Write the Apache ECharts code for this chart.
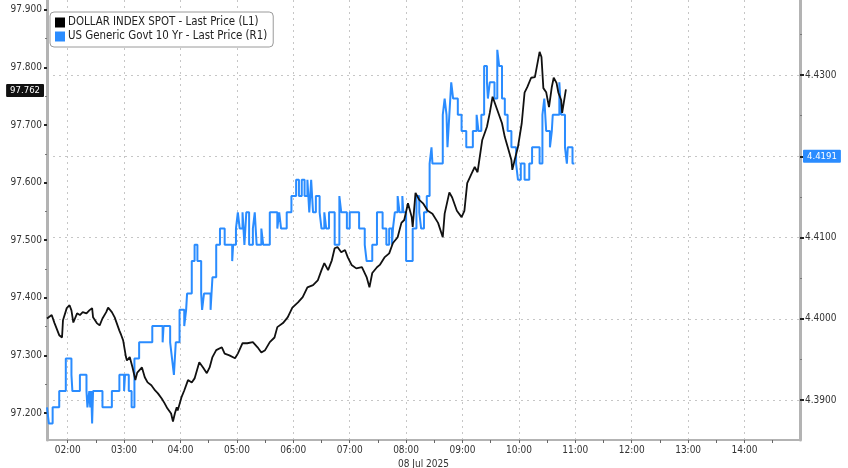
<!DOCTYPE html>
<html><head><meta charset="utf-8">
<script src="https://cdn.jsdelivr.net/npm/echarts@6/dist/echarts.min.js"></script>
<style>html,body{margin:0;padding:0;background:#fff}#c{width:848px;height:468px}</style>
</head><body><div id="c"></div>
<script>
// DOLLAR INDEX SPOT (left axis) - minutes after midnight, 08 Jul 2025
const dxyMinutes = [98,103,106,111,114,115,119,122,124,126,130,133,136,140,143,146,147,151,154,157,161,163,167,170,175,177,179,182,183,186,189,192,194,199,202,205,209,213,216,220,223,226,230,232,234,236,237,241,244,248,252,255,260,264,268,271,274,278,284,287,292,298,301,306,311,317,322,326,330,335,340,343,349,354,359,365,370,375,381,386,390,393,397,401,404,407,411,415,418,422,427,433,438,441,444,449,452,457,459,462,466,471,475,478,482,486,487,490,494,498,503,508,514,519,521,526,529,534,539,542,545,550,553,556,561,566,569,572,574,577,582,585,588,592,593,595,599,603,606,609,613,617,619,622,624,626,629,632,635,637,640,642,645,646,650];
const dxyValues = [97.364,97.370,97.356,97.335,97.331,97.361,97.382,97.387,97.378,97.357,97.373,97.370,97.375,97.373,97.378,97.382,97.366,97.356,97.352,97.364,97.375,97.383,97.375,97.366,97.343,97.335,97.326,97.297,97.291,97.297,97.279,97.257,97.270,97.279,97.262,97.253,97.248,97.239,97.234,97.225,97.217,97.208,97.199,97.185,97.199,97.210,97.204,97.227,97.239,97.257,97.253,97.260,97.288,97.279,97.269,97.279,97.297,97.309,97.314,97.303,97.300,97.295,97.303,97.321,97.321,97.323,97.314,97.305,97.309,97.323,97.331,97.349,97.356,97.366,97.383,97.392,97.401,97.418,97.422,97.430,97.448,97.460,97.448,97.465,97.486,97.488,97.479,97.483,97.470,97.457,97.451,97.453,97.436,97.418,97.443,97.453,97.457,97.470,97.470,97.477,97.495,97.505,97.530,97.535,97.564,97.540,97.523,97.582,97.570,97.564,97.551,97.546,97.530,97.505,97.546,97.583,97.574,97.551,97.540,97.551,97.599,97.617,97.627,97.618,97.674,97.697,97.721,97.749,97.752,97.726,97.703,97.679,97.662,97.639,97.622,97.636,97.662,97.703,97.756,97.766,97.782,97.783,97.783,97.827,97.818,97.764,97.757,97.731,97.766,97.782,97.773,97.756,97.743,97.721,97.762];

// US Generic Govt 10 Yr (right axis) - level changes
const ustMinutes = [98,100,104,111,118,124,125,133,140,141,143,144,145,146,147,157,167,175,180,181,185,188,191,196,210,221,222,229,231,233,235,239,244,246,247,252,255,258,262,263,265,272,274,278,282,287,295,296,299,301,303,306,308,310,313,317,319,321,326,328,335,343,345,347,353,358,363,366,369,372,375,377,379,381,384,388,390,393,395,398,404,409,411,417,420,430,436,438,444,449,455,459,462,465,466,468,471,473,476,477,480,487,491,494,496,499,502,505,507,508,519,521,523,524,526,528,530,535,539,544,551,555,557,560,563,566,567,569,574,577,579,582,585,588,592,597,599,602,606,611,614,622,625,627,629,633,635,636,643,645,649,651,652,657,659];
const ustValues = [4.3891,4.3871,4.3891,4.3911,4.3951,4.3931,4.3911,4.3931,4.3911,4.3891,4.3911,4.3891,4.3911,4.3871,4.3911,4.3891,4.3911,4.3931,4.3911,4.3931,4.3911,4.3891,4.3951,4.3971,4.3991,4.3971,4.3991,4.3971,4.3951,4.3931,4.3971,4.4011,4.3991,4.4011,4.4031,4.4071,4.4091,4.4071,4.4031,4.4011,4.4031,4.4011,4.4051,4.4091,4.4111,4.4091,4.4071,4.4091,4.4111,4.4131,4.4111,4.4131,4.4091,4.4131,4.4091,4.4111,4.4131,4.4091,4.4111,4.4091,4.4131,4.4111,4.4131,4.4111,4.4131,4.4151,4.4171,4.4151,4.4171,4.4151,4.4171,4.4131,4.4171,4.4131,4.4151,4.4131,4.4111,4.4131,4.4111,4.4131,4.4091,4.4151,4.4131,4.4111,4.4131,4.4111,4.4091,4.4071,4.4091,4.4131,4.4111,4.4091,4.4111,4.4091,4.4111,4.4131,4.4151,4.4131,4.4151,4.4131,4.4071,4.4111,4.4151,4.4131,4.4111,4.4131,4.4151,4.4191,4.4211,4.4191,4.4251,4.4271,4.4251,4.4211,4.4251,4.4291,4.4271,4.4251,4.4231,4.4211,4.4231,4.4251,4.4231,4.4251,4.4311,4.4291,4.4271,4.4291,4.4271,4.4331,4.4311,4.4271,4.4251,4.4231,4.4211,4.4191,4.4171,4.4191,4.4171,4.4191,4.4211,4.4191,4.4251,4.4271,4.4231,4.4211,4.4231,4.4251,4.4291,4.4251,4.4211,4.4191,4.4211,4.4191,4.4191];

const hourTicks = [120,180,240,300,360,420,480,540,600,660,720,780,840];
const halfHourTicks = [150,210,270,330,390,450,510,570,630,690,750,810,870];
const leftTicks = [97.2,97.3,97.4,97.5,97.6,97.7,97.8,97.9];
const leftMinorTicks = [97.25,97.35,97.45,97.55,97.65,97.75,97.85];
const rightTicks = [4.39,4.40,4.41,4.42,4.43];
const rightMinorTicks = [4.395,4.405,4.415,4.425,4.435];
const dateLabel = '08 Jul 2025';
const dxyName = 'DOLLAR INDEX SPOT - Last Price (L1)';
const ustName = 'US Generic Govt 10 Yr - Last Price (R1)';
const dxyLast = 97.762;
const ustLast = 4.4191;

const FONT = "'DejaVu Sans Condensed','DejaVu Sans',sans-serif";
const X_MIN = 98, X_MAX = 899;
const L_MIN = 97.153, L_MAX = 97.917;
const R_MIN = 4.38508, R_MAX = 4.43923;
const pad = n => (n < 10 ? '0' : '') + n;
const hhmm = m => pad(Math.floor(m / 60)) + ':' + pad(Math.round(m % 60));

const chart = echarts.init(document.getElementById('c'), null, {renderer: 'canvas'});
const axisLineStyle = {color: '#b3b3b3', width: 2};
const labelStyle = {color: '#333', fontSize: 10, fontFamily: FONT};

chart.setOption({
  animation: false,
  backgroundColor: '#fff',
  textStyle: {fontFamily: FONT},
  grid: {left: 47, right: 48, top: 0, bottom: 28, containLabel: false, outerBoundsMode: 'none'},
  legend: {
    left: 50, top: 12, orient: 'vertical',
    backgroundColor: '#fff', borderColor: '#9a9a9a', borderWidth: 1, borderRadius: 4,
    padding: [5, 6, 5, 5], itemGap: 3, itemWidth: 10, itemHeight: 10,
    icon: 'rect',
    textStyle: {color: '#222', fontSize: 11.4, fontFamily: FONT, padding: [0, 0, 0, -2]},
    data: [dxyName, ustName]
  },
  xAxis: [
    {
      type: 'value', position: 'bottom', min: X_MIN, max: X_MAX,
      axisLine: {lineStyle: axisLineStyle},
      axisTick: {customValues: hourTicks, length: 3, lineStyle: {color: '#666'}},
      axisLabel: Object.assign({customValues: hourTicks, formatter: v => hhmm(v), margin: 5}, labelStyle),
      splitLine: {show: true, lineStyle: {color: '#c6c6c6', type: [2, 4], width: 1}},
      name: dateLabel, nameLocation: 'middle', nameGap: 17,
      nameTextStyle: labelStyle
    },
    {
      type: 'value', position: 'bottom', min: X_MIN, max: X_MAX,
      axisLine: {show: false},
      axisTick: {customValues: halfHourTicks, length: 3, lineStyle: {color: '#666'}},
      axisLabel: {show: false},
      splitLine: {show: false}
    }
  ],
  yAxis: [
    {
      type: 'value', position: 'left', min: L_MIN, max: L_MAX,
      axisLine: {show: true, lineStyle: {color: '#b3b3b3', width: 3}},
      axisTick: {show: true, customValues: leftTicks, length: 3, lineStyle: {color: '#222', width: 2}},
      axisLabel: Object.assign({customValues: leftTicks, formatter: v => v.toFixed(3), margin: 5}, labelStyle),
      splitLine: {show: false}
    },
    {
      type: 'value', position: 'right', min: R_MIN, max: R_MAX,
      axisLine: {show: true, lineStyle: {color: '#b3b3b3', width: 3}},
      axisTick: {show: true, customValues: rightTicks, length: 4, lineStyle: {color: '#222', width: 2}},
      axisLabel: Object.assign({customValues: rightTicks, formatter: v => v.toFixed(4), margin: 5}, labelStyle),
      splitLine: {show: true, lineStyle: {color: '#c6c6c6', type: [2, 4], width: 1}}
    },
    {
      type: 'value', position: 'left', min: L_MIN, max: L_MAX,
      axisLine: {show: false},
      axisTick: {show: true, customValues: leftMinorTicks, length: 2, lineStyle: {color: '#777'}},
      axisLabel: {show: false}, splitLine: {show: false}
    },
    {
      type: 'value', position: 'right', min: R_MIN, max: R_MAX,
      axisLine: {show: false},
      axisTick: {show: true, customValues: rightMinorTicks, length: 2, lineStyle: {color: '#777'}},
      axisLabel: {show: false}, splitLine: {show: false}
    }
  ],
  series: [
    {
      name: ustName, type: 'line', xAxisIndex: 0, yAxisIndex: 1, step: 'end',
      data: ustMinutes.map((m, i) => [m, ustValues[i]]),
      showSymbol: false, symbol: 'none',
      lineStyle: {color: '#2a8cff', width: 2}, itemStyle: {color: '#2a8cff'},
      z: 3,
      markLine: {
        silent: true, symbol: 'none', animation: false,
        lineStyle: {color: 'rgba(0,0,0,0)', width: 0},
        label: {show: true, position: 'end', formatter: ustLast.toFixed(4), color: '#fff', backgroundColor: '#2a8cff',
          padding: [2, 4, 1, 4], fontSize: 9.5, fontFamily: FONT, distance: 3, borderRadius: 1},
        data: [{yAxis: ustLast}]
      }
    },
    {
      name: dxyName, type: 'line', xAxisIndex: 0, yAxisIndex: 0,
      data: dxyMinutes.map((m, i) => [m, dxyValues[i]]),
      showSymbol: false, symbol: 'none',
      lineStyle: {color: '#111', width: 1.8}, itemStyle: {color: '#000'},
      z: 4,
      markLine: {
        silent: true, symbol: 'none', animation: false,
        lineStyle: {color: 'rgba(0,0,0,0)', width: 0},
        label: {show: true, position: 'start', formatter: dxyLast.toFixed(3), color: '#fff', backgroundColor: '#111',
          padding: [2, 4, 1, 4], fontSize: 9.5, fontFamily: FONT, distance: 3, borderRadius: 1},
        data: [{yAxis: dxyLast}]
      }
    }
  ]
});
</script>
</body></html>
